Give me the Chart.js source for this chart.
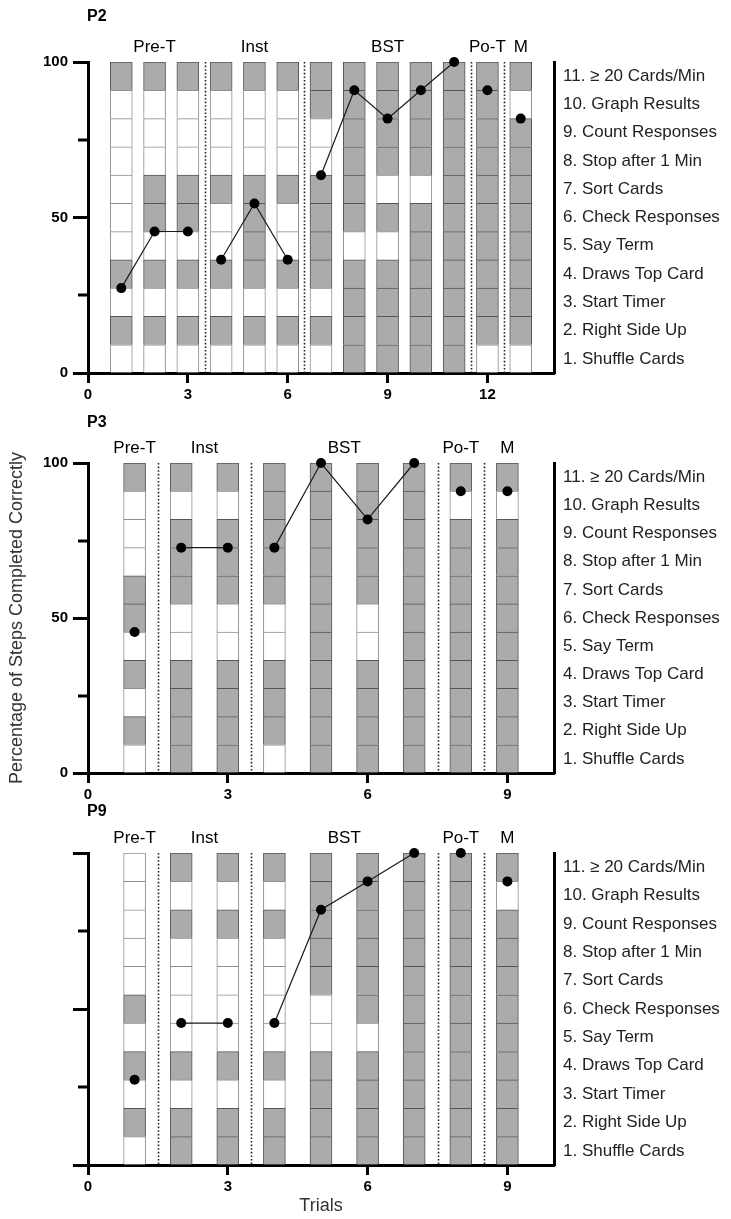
<!DOCTYPE html>
<html><head><meta charset="utf-8">
<script src="https://cdn.jsdelivr.net/npm/chart.js@4.4.1/dist/chart.umd.min.js"></script>
<style>
html,body{margin:0;padding:0;background:#fff;}
#wrap{position:relative;width:731px;height:1219px;overflow:hidden;}
canvas{position:absolute;left:0;}
</style></head><body>
<div id="wrap">
<canvas id="c1" width="731" height="400" style="top:0px;width:731px;height:400px"></canvas>
<canvas id="c2" width="731" height="400" style="top:400px;width:731px;height:400px"></canvas>
<canvas id="c3" width="731" height="419" style="top:800px;width:731px;height:419px"></canvas>
</div>
<script>
// ---------- DATA ----------
const stepLabels = [
  '1. Shuffle Cards', '2. Right Side Up', '3. Start Timer', '4. Draws Top Card',
  '5. Say Term', '6. Check Responses', '7. Sort Cards', '8. Stop after 1 Min',
  '9. Count Responses', '10. Graph Results', '11. \u2265 20 Cards/Min'
];
const yMajorTicks = [0, 50, 100];
const yMinorTicks = [25, 75];

// P2
const p2Trials  = [1, 2, 3, 4, 5, 6, 7, 8, 9, 10, 11, 12, 13];
const p2Phases  = ['Pre-T','Pre-T','Pre-T','Inst','Inst','Inst','BST','BST','BST','BST','BST','Po-T','M'];
const p2Percent = [27.3, 45.5, 45.5, 36.4, 54.5, 36.4, 63.6, 90.9, 81.8, 90.9, 100, 90.9, 81.8];
// steps 1..11 per trial (1 = completed correctly, grey cell)
const p2Steps = [
  '01010000001', '01010110001', '01010110001', '01010010001', '01011110001',
  '01010010001', '01011110011', '11110111111', '11110101111', '11111101111',
  '11111111111', '01111111111', '01111111101'
];
const p2XTicks = [0, 3, 6, 9, 12];

// P3
const p3Trials  = [1, 2, 3, 4, 5, 6, 7, 8, 9];
const p3Phases  = ['Pre-T','Inst','Inst','BST','BST','BST','BST','Po-T','M'];
const p3Percent = [45.5, 72.7, 72.7, 72.7, 100, 81.8, 100, 90.9, 90.9];
const p3Steps = [
  '01010110001', '11110011101', '11110011101', '01110011111', '11111111111',
  '11110011111', '11111111111', '11111111101', '11111111101'
];
const p3XTicks = [0, 3, 6, 9];

// P9
const p9Trials  = [1, 2, 3, 4, 5, 6, 7, 8, 9];
const p9Phases  = ['Pre-T','Inst','Inst','BST','BST','BST','BST','Po-T','M'];
const p9Percent = [27.3, 45.5, 45.5, 45.5, 81.8, 90.9, 100, 100, 90.9];
const p9Steps = [
  '01010100000', '11010000101', '11010000101', '11010000101', '11110011111',
  '11110111111', '11111111111', '11111111111', '11111111101'
];
const p9XTicks = [0, 3, 6, 9];

// ---------- STYLE ----------
const FONT = '"Liberation Sans", Arial, Helvetica, sans-serif';
const GREY = '#ababab';
const WHITE = '#ffffff';

const decorPlugin = {
  id: 'decor',
  beforeDatasetsDraw(chart, args, o) {
    const {ctx, chartArea} = chart;
    const x = chart.scales.x;
    ctx.save();
    ctx.strokeStyle = '#222';
    ctx.lineWidth = 1.6;
    ctx.setLineDash([1.6, 2]);
    for (let i = 1; i < o.trials.length; i++) {
      if (o.phases[i] !== o.phases[i - 1]) {
        const px = Math.round(x.getPixelForValue((o.trials[i] + o.trials[i - 1]) / 2)) + 0.5;
        ctx.beginPath();
        ctx.moveTo(px, chartArea.top);
        ctx.lineTo(px, chartArea.bottom);
        ctx.stroke();
      }
    }
    ctx.restore();
  },
  afterDraw(chart, args, o) {
    const {ctx, chartArea} = chart;
    const x = chart.scales.x, y = chart.scales.y;
    ctx.save();
    // minor y ticks
    ctx.strokeStyle = '#000';
    ctx.lineWidth = 3;
    yMinorTicks.forEach(v => {
      const py = Math.round(y.getPixelForValue(v));
      ctx.beginPath();
      ctx.moveTo(chartArea.left - 10, py);
      ctx.lineTo(chartArea.left, py);
      ctx.stroke();
    });
    // panel title
    ctx.fillStyle = '#000';
    ctx.font = 'bold 16px ' + FONT;
    ctx.textBaseline = 'middle';
    ctx.textAlign = 'left';
    ctx.fillText(o.title, chartArea.left - 1, o.titleY);
    // phase labels
    ctx.font = '17px ' + FONT;
    ctx.textAlign = 'center';
    const groups = [];
    o.trials.forEach((t, i) => {
      if (i === 0 || o.phases[i] !== o.phases[i - 1]) groups.push({name: o.phases[i], xs: []});
      groups[groups.length - 1].xs.push(t);
    });
    groups.forEach(g => {
      const mid = g.xs.reduce((a, b) => a + b, 0) / g.xs.length;
      ctx.fillText(g.name, x.getPixelForValue(mid), chartArea.top - 15);
    });
    ctx.restore();
  }
};

function makeBars(trials, steps) {
  return stepLabels.map((label, s) => ({
    type: 'bar',
    label: label,
    data: trials.map(t => ({x: t, y: 100 / stepLabels.length})),
    backgroundColor: steps.map(str => str[s] === '1' ? GREY : WHITE),
    borderColor: steps.map(str => str[s] === '1' ? '#555555' : '#8f8f8f'),
    borderWidth: 1,
    barThickness: 22,
    stack: 'steps',
    order: 1
  }));
}

function makeLines(trials, phases, pct) {
  const groups = [];
  trials.forEach((t, i) => {
    if (i === 0 || phases[i] !== phases[i - 1]) groups.push([]);
    groups[groups.length - 1].push({x: t, y: pct[i]});
  });
  return groups.map((g, k) => ({
    type: 'line',
    label: 'pct' + k,
    data: g,
    borderColor: '#1a1a1a',
    borderWidth: 1.2,
    pointRadius: 5,
    pointHoverRadius: 5,
    pointBackgroundColor: '#000',
    pointBorderColor: '#000',
    pointBorderWidth: 0,
    stack: 'line' + k,
    order: 0,
    clip: false,
    tension: 0
  }));
}

function makeChart(id, cfg) {
  return new Chart(document.getElementById(id), {
    type: 'bar',
    data: {datasets: [...makeLines(cfg.trials, cfg.phases, cfg.pct), ...makeBars(cfg.trials, cfg.steps)]},
    plugins: [decorPlugin],
    options: {
      responsive: false,
      animation: false,
      devicePixelRatio: 1,
      events: [],
      layout: {padding: {top: cfg.padTop, left: 0, right: 0, bottom: 0}},
      plugins: {
        legend: {display: false},
        tooltip: {enabled: false},
        decor: {title: cfg.title, titleY: cfg.titleY, trials: cfg.trials, phases: cfg.phases}
      },
      scales: {
        x: {
          type: 'linear', position: 'bottom', min: 0, max: cfg.xMax, stacked: true, offset: false,
          afterBuildTicks: s => { s.ticks = cfg.xTicks.map(v => ({value: v})); },
          afterFit: s => { s.height = cfg.xHeight; },
          ticks: {font: {family: FONT, size: 15, weight: 'bold'}, color: '#000', padding: 3, maxRotation: 0, autoSkip: false},
          grid: {offset: false, drawOnChartArea: false, drawTicks: true, tickLength: 10, tickWidth: 3, tickColor: '#000'},
          border: {display: true, width: 3, color: '#000'},
          title: cfg.xTitle ? {display: true, text: cfg.xTitle, color: '#333', font: {family: FONT, size: 18}, padding: {top: 0, bottom: 2}} : {display: false}
        },
        y: {
          type: 'linear', position: 'left', min: 0, max: 100, stacked: true,
          afterBuildTicks: s => { s.ticks = yMajorTicks.map(v => ({value: v})); },
          afterFit: s => { s.width = 88; },
          ticks: {
            font: {family: FONT, size: 15, weight: 'bold'}, color: '#000', padding: 5, autoSkip: false,
            callback: v => cfg.yLabels ? String(v) : ''
          },
          grid: {drawOnChartArea: false, drawTicks: true, tickLength: 15, tickWidth: 3, tickColor: '#000'},
          border: {display: true, width: 3, color: '#000'},
          title: cfg.yTitle ? {display: true, text: cfg.yTitle, color: '#333', font: {family: FONT, size: 18}, padding: {top: 6, bottom: 0}} : {display: false}
        },
        yr: {
          type: 'linear', position: 'right', min: 0, max: 100,
          afterBuildTicks: s => { s.ticks = stepLabels.map((l, i) => ({value: (i + 0.5) * 100 / stepLabels.length})); },
          afterFit: s => { s.width = 731 - 554; },
          ticks: {
            font: {family: FONT, size: 17}, color: '#222', padding: 9, autoSkip: false, crossAlign: 'near',
            callback: (v, i) => stepLabels[i]
          },
          grid: {drawOnChartArea: false, drawTicks: false},
          border: {display: true, width: 3, color: '#000'}
        }
      }
    }
  });
}

makeChart('c1', {trials: p2Trials, phases: p2Phases, pct: p2Percent, steps: p2Steps, xTicks: p2XTicks,
  xMax: 14, padTop: 62, xHeight: 27, title: 'P2', titleY: 17, yLabels: true});
makeChart('c2', {trials: p3Trials, phases: p3Phases, pct: p3Percent, steps: p3Steps, xTicks: p3XTicks,
  xMax: 10, padTop: 63, xHeight: 27, title: 'P3', titleY: 23, yLabels: true,
  yTitle: 'Percentage of Steps Completed Correctly'});
makeChart('c3', {trials: p9Trials, phases: p9Phases, pct: p9Percent, steps: p9Steps, xTicks: p9XTicks,
  xMax: 10, padTop: 53, xHeight: 54, title: 'P9', titleY: 12, yLabels: false, xTitle: 'Trials'});
</script>
</body></html>
